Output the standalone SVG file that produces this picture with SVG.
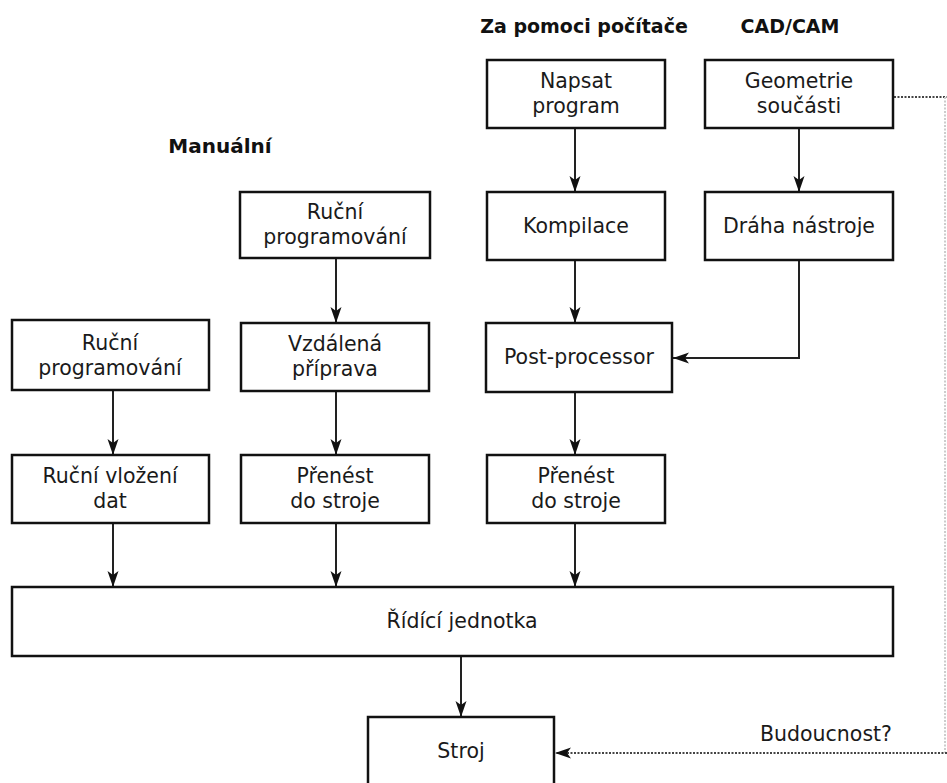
<svg xmlns="http://www.w3.org/2000/svg" width="947" height="783" viewBox="0 0 947 783">
<style>
.box{fill:#fff;stroke:#111;stroke-width:2.5}
.t{font-family:"DejaVu Sans",Verdana,sans-serif;font-size:20.5px;fill:#1a1a1a;text-anchor:middle}
.h{font-family:"DejaVu Sans",Verdana,sans-serif;font-size:19px;font-weight:bold;fill:#111;text-anchor:middle}
.c{fill:none;stroke:#222;stroke-width:2}
.d{fill:none;stroke:#444;stroke-width:2;stroke-dasharray:2 1.5}
</style>
<defs>
<marker id="b" viewBox="0 0 16 12" refX="16" refY="6" markerWidth="16" markerHeight="12" markerUnits="userSpaceOnUse" orient="auto"><path d="M0,0.5 L16,6 L0,11.5 L4,6 Z" fill="#111"/></marker>
</defs>
<rect width="947" height="783" fill="#fff"/>
<g id="headers">
<text class="h" x="584" y="33">Za pomoci počítače</text>
<text class="h" x="790" y="33">CAD/CAM</text>
<text class="h" x="220" y="153" style="font-size:20px">Manuální</text>
</g>
<g id="connectors">
<path class="c" d="M575,128 V192" marker-end="url(#b)"/>
<path class="c" d="M575,260 V323" marker-end="url(#b)"/>
<path class="c" d="M575,392 V455" marker-end="url(#b)"/>
<path class="c" d="M575,523 V587" marker-end="url(#b)"/>
<path class="c" d="M799,128 V192" marker-end="url(#b)"/>
<path class="c" d="M799,260 V358 H673" marker-end="url(#b)"/>
<path class="c" d="M336,258 V323" marker-end="url(#b)"/>
<path class="c" d="M336,391 V455" marker-end="url(#b)"/>
<path class="c" d="M336,523 V587" marker-end="url(#b)"/>
<path class="c" d="M113,390 V455" marker-end="url(#b)"/>
<path class="c" d="M113,523 V587" marker-end="url(#b)"/>
<path class="c" d="M461,656 V717" marker-end="url(#b)"/>
<path class="d" d="M894,97 H947"/>
<path class="d" d="M945,97 V753" style="stroke:#ccc"/>
<path class="d" d="M947,753 H555" marker-end="url(#b)"/>
</g>
<g id="napsat"><rect class="box" x="487" y="60" width="178" height="68"/><text class="t" x="576" y="88">Napsat</text><text class="t" x="576" y="113">program</text></g>
<g id="geometrie"><rect class="box" x="705" y="60" width="188" height="68"/><text class="t" x="799" y="88">Geometrie</text><text class="t" x="799" y="113">součásti</text></g>
<g id="rucni2"><rect class="box" x="240" y="192" width="190" height="66"/><text class="t" x="335" y="219">Ruční</text><text class="t" x="335" y="244">programování</text></g>
<g id="kompilace"><rect class="box" x="487" y="192" width="178" height="68"/><text class="t" x="576" y="233">Kompilace</text></g>
<g id="draha"><rect class="box" x="705" y="192" width="188" height="68"/><text class="t" x="799" y="233">Dráha nástroje</text></g>
<g id="rucni1"><rect class="box" x="12" y="320" width="197" height="70"/><text class="t" x="110" y="350">Ruční</text><text class="t" x="110" y="375">programování</text></g>
<g id="vzdalena"><rect class="box" x="241" y="323" width="188" height="68"/><text class="t" x="335" y="351">Vzdálená</text><text class="t" x="335" y="376">příprava</text></g>
<g id="post"><rect class="box" x="486" y="323" width="186" height="69"/><text class="t" x="579" y="364">Post-processor</text></g>
<g id="vlozeni"><rect class="box" x="12" y="455" width="197" height="68"/><text class="t" x="110" y="483">Ruční vložení</text><text class="t" x="110" y="508">dat</text></g>
<g id="prenest2"><rect class="box" x="241" y="455" width="188" height="68"/><text class="t" x="335" y="483">Přenést</text><text class="t" x="335" y="508">do stroje</text></g>
<g id="prenest3"><rect class="box" x="487" y="455" width="178" height="68"/><text class="t" x="576" y="483">Přenést</text><text class="t" x="576" y="508">do stroje</text></g>
<g id="ridici"><rect class="box" x="12" y="587" width="881" height="69"/><text class="t" x="462" y="628">Řídící jednotka</text></g>
<g id="stroj"><rect class="box" x="368" y="717" width="186" height="80"/><text class="t" x="461" y="758">Stroj</text></g>
<g id="budoucnost"><text class="t" x="826" y="741">Budoucnost?</text></g>
</svg>
